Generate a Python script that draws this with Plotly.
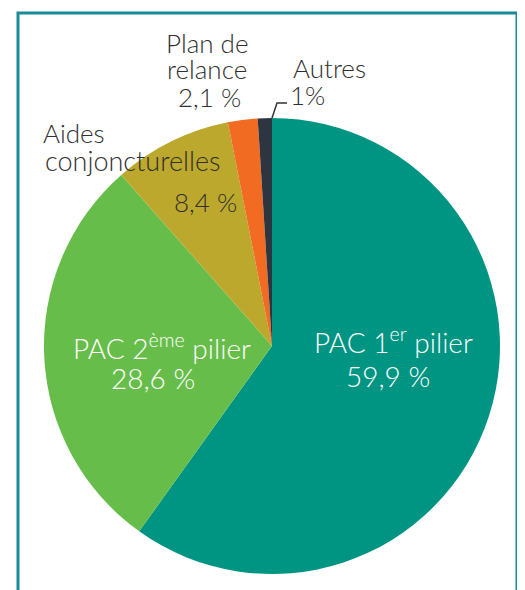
import plotly.graph_objects as go

categories = ["PAC 1<sup>er</sup> pilier", "PAC 2<sup>ème</sup> pilier", "Aides conjoncturelles", "Plan de relance", "Autres"]
values = [59.9, 28.6, 8.4, 2.1, 1.0]
value_labels = ["59,9 %", "28,6 %", "8,4 %", "2,1 %", "1%"]
colors = ["#009483", "#67BD4A", "#BCA82D", "#F26B22", "#2C3540"]

W, H = 525, 590
OFF = 8  # default body margin of the html page
FONT = "Lato"


def px(x):
    return (x - OFF) / W


def py(y):
    return (H - (y - OFF)) / H


fig = go.Figure(go.Pie(
    labels=categories,
    values=values,
    sort=False,
    direction="clockwise",
    rotation=0,
    marker=dict(colors=colors, line=dict(width=0)),
    textinfo="none",
    hoverinfo="label+value",
    showlegend=False,
    domain=dict(x=[px(44), px(500)], y=[py(574), py(118)]),
))


def ann(x, y, text, color, size=26):
    fig.add_annotation(x=px(x), y=py(y), xref="paper", yref="paper", text=text,
                       showarrow=False, xanchor="center", yanchor="middle",
                       borderpad=0,
                       font=dict(family=FONT, size=size, color=color, weight=300),
                       align="center")


DARK = "#2F2F2F"
ann(393, 340, "PAC 1<sup>er</sup> pilier", "white", 28)
ann(388, 376, value_labels[0], "white", 28)
ann(162, 347, "PAC 2<sup>ème</sup> pilier", "white", 28)
ann(153, 378, value_labels[1], "white", 28)
ann(74, 133, "Aides", DARK)
ann(133, 160, "conjoncturelles", DARK, 27)
ann(205, 202, value_labels[2], DARK)
ann(207, 43, "Plan de", DARK)
ann(207, 69, "relance", DARK)
ann(209, 97, value_labels[3], DARK)
ann(329, 68, "Autres", DARK)
ann(307, 95, value_labels[4], DARK)

# leader line for "Autres"
fig.add_shape(type="path", xref="paper", yref="paper",
              path=f"M {px(272)} {py(118)} L {px(277)} {py(103)} L {px(287)} {py(103)}",
              line=dict(color="#333333", width=1.5))

# frame
fig.add_shape(type="rect", xref="paper", yref="paper",
              x0=px(18), x1=px(517), y0=py(610), y1=py(13),
              line=dict(color="#1B8A9A", width=3))

fig.update_layout(width=W, height=H, margin=dict(l=0, r=0, t=0, b=0),
                  paper_bgcolor="white", plot_bgcolor="white")

fig.write_html("out.html")
